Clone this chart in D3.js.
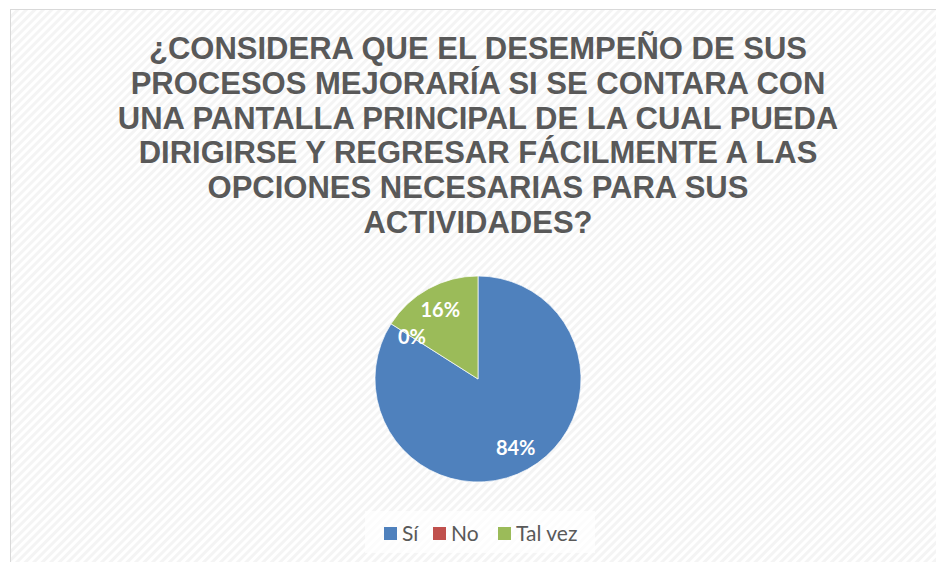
<!DOCTYPE html>
<html><head><meta charset="utf-8">
<script src="https://cdn.jsdelivr.net/npm/d3@7"></script>
<style>html,body{margin:0;padding:0;background:#fff;}svg{display:block;}</style>
</head><body>
<svg id="chart" width="936" height="562"></svg>
<script>
const titleLines = [
  "¿CONSIDERA QUE EL DESEMPEÑO DE SUS",
  "PROCESOS MEJORARÍA SI SE CONTARA CON",
  "UNA PANTALLA PRINCIPAL DE LA CUAL PUEDA",
  "DIRIGIRSE Y REGRESAR FÁCILMENTE A LAS",
  "OPCIONES NECESARIAS PARA SUS",
  "ACTIVIDADES?"
];
const categories = ["Sí", "No", "Tal vez"];
const values = [84, 0, 16];
const colors = ["#4F81BD", "#C0504D", "#9BBB59"];

const svg = d3.select("#chart");
const W = 936, H = 562;

// background pattern
const defs = svg.append("defs");
const pat = defs.append("pattern").attr("id", "stripes").attr("patternUnits", "userSpaceOnUse")
  .attr("width", 6).attr("height", 6).attr("patternTransform", "rotate(45)");
pat.append("rect").attr("width", 6).attr("height", 6).attr("fill", "#ffffff");
pat.append("rect").attr("width", 3).attr("height", 6).attr("fill", "#f4f4f4");

svg.append("rect").attr("x", 0).attr("y", 0).attr("width", W).attr("height", H).attr("fill", "#fff");
svg.append("rect").attr("x", 10.5).attr("y", 9.5).attr("width", W).attr("height", H)
  .attr("fill", "url(#stripes)").attr("stroke", "#d9d9d9").attr("stroke-width", 1);

// title
const title = svg.append("text").attr("text-anchor", "middle")
  .attr("font-family", "'Liberation Sans', Arial, sans-serif").attr("font-weight", "bold")
  .attr("font-size", 31).attr("fill", "#595959");
titleLines.forEach((t, i) => {
  title.append("tspan").attr("x", 478).attr("y", 59 + i * 34.8).text(t);
});

// pie
const cx = 478, cy = 379, R = 103;
const pie = d3.pie().sort(null).value(d => d.v);
const data = pie(categories.map((c, i) => ({c, v: values[i], col: colors[i]})));
const arc = d3.arc().innerRadius(0).outerRadius(R);
const labelArc = d3.arc().innerRadius(R * 0.76).outerRadius(R * 0.76);
const g = svg.append("g").attr("transform", `translate(${cx},${cy})`);
g.selectAll("path").data(data).join("path")
  .attr("d", arc).attr("fill", d => d.data.col)
  .attr("stroke", "#fff").attr("stroke-width", d => d.data.v > 0 ? 0.7 : 0);
g.selectAll("text").data(data).join("text")
  .attr("transform", d => `translate(${labelArc.centroid(d)})`)
  .attr("text-anchor", "middle").attr("dy", "0.35em")
  .attr("font-family", "Lato, 'Open Sans', sans-serif").attr("font-weight", "bold")
  .attr("font-size", 20).attr("fill", "#fff")
  .text(d => d.data.v + "%");

// legend
svg.append("rect").attr("x", 365).attr("y", 511).attr("width", 230).attr("height", 42).attr("fill", "#fff").attr("opacity", 0.7);
const legX = [384, 433, 498];
const leg = svg.append("g");
categories.forEach((c, i) => {
  leg.append("rect").attr("x", legX[i]).attr("y", 527).attr("width", 13).attr("height", 13).attr("fill", colors[i]);
  leg.append("text").attr("x", legX[i] + 18).attr("y", 541)
    .attr("font-family", "Lato, 'Open Sans', sans-serif").attr("font-size", 21).attr("fill", "#595959").text(c);
});
</script>
</body></html>
